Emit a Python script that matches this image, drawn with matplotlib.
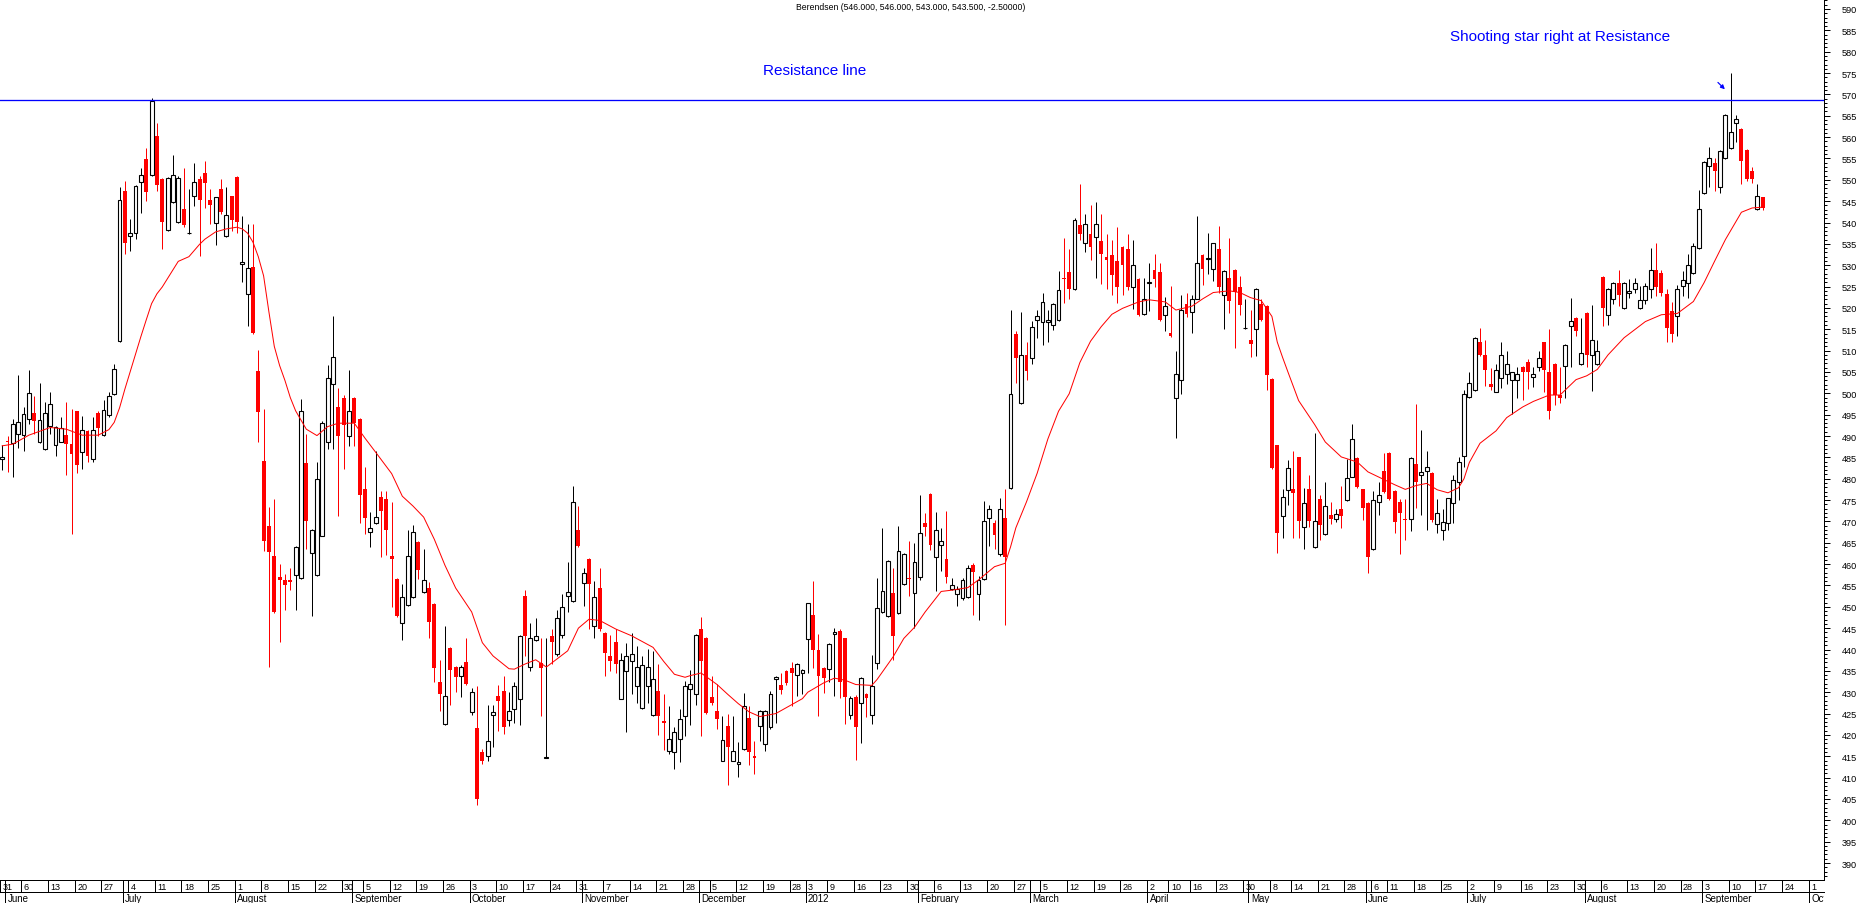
import matplotlib
matplotlib.use("Agg")
import matplotlib.pyplot as plt
import numpy as np
import pandas as pd
from matplotlib.ticker import MultipleLocator

plt.rcParams['font.family'] = ['Liberation Sans', 'DejaVu Sans']

# ---------------- data ----------------
title = "Berendsen (546.000, 546.000, 543.000, 543.500, -2.50000)"
first_day = "2011-05-31"
last_axis_day = "2012-10-05"
uk_holidays = ["2011-08-29", "2011-12-26", "2011-12-27", "2012-01-02", "2012-04-06",
               "2012-04-09", "2012-05-07", "2012-06-04", "2012-06-05", "2012-08-27"]

opens = [484.5, 488.9, 488.3, 490.5, 490.3, 494.1, 495.4, 488.5, 487.0, 492.4,
         488.0, 488.7, 490.2, 488.1, 495.9, 486.3, 491.1, 484.6, 495.4, 490.2,
         494.9, 499.8, 512.2, 547.3, 536.8, 537.5, 549.6, 554.9, 551.2, 560.2,
         550.2, 538.3, 544.7, 540.2, 543.2, 537.5, 546.3, 550.2, 551.7, 545.3,
         539.9, 547.8, 536.8, 546.1, 550.6, 530.3, 523.2, 529.5, 505.3, 484.1,
         469.0, 461.8, 456.9, 456.3, 456.3, 457.4, 456.7, 483.6, 462.7, 457.5,
         466.6, 488.7, 502.2, 496.9, 499.0, 490.1, 499.0, 494.0, 477.6, 467.6,
         469.6, 475.8, 475.2, 461.8, 456.5, 446.2, 450.5, 452.4, 465.1, 453.5,
         454.5, 450.6, 432.5, 422.5, 440.3, 435.8, 433.7, 437.0, 425.4, 421.6,
         415.9, 415.1, 424.6, 429.2, 430.2, 423.6, 426.1, 428.4, 452.6, 436.0,
         442.3, 436.8, 414.6, 443.2, 439.0, 443.4, 452.6, 451.4, 468.1, 455.6,
         461.2, 445.4, 454.5, 443.9, 438.4, 441.7, 428.5, 435.0, 437.4, 431.4,
         426.2, 431.4, 424.6, 430.3, 423.3, 416.3, 415.9, 419.0, 424.5, 430.7,
         429.6, 444.9, 442.7, 428.8, 425.5, 414.0, 422.0, 414.0, 413.2, 416.7,
         423.9, 415.1, 422.0, 417.9, 421.8, 433.0, 431.6, 435.0, 435.7, 434.1,
         434.6, 442.4, 448.0, 439.8, 435.7, 435.4, 443.7, 444.3, 442.6, 424.6,
         428.9, 427.5, 429.6, 424.6, 436.9, 448.7, 447.9, 453.2, 448.5, 455.4,
         456.8, 453.3, 457.1, 469.6, 476.5, 461.6, 464.5, 461.1, 454.2, 453.0,
         452.0, 452.2, 459.7, 453.0, 456.5, 470.9, 469.6, 462.3, 470.7, 477.8,
         514.0, 497.8, 508.9, 508.2, 517.1, 516.7, 516.7, 516.1, 517.1, 527.0,
         528.4, 524.5, 539.4, 535.3, 537.2, 536.6, 535.6, 532.0, 532.4, 531.1,
         534.2, 533.7, 525.0, 526.7, 518.6, 525.8, 528.9, 528.4, 518.3, 514.2,
         498.8, 503.0, 520.9, 519.0, 522.1, 532.4, 531.5, 529.2, 533.7, 523.1,
         527.0, 528.9, 525.0, 515.2, 512.5, 515.1, 520.9, 520.4, 503.4, 487.8,
         471.2, 477.3, 477.5, 485.0, 468.8, 477.5, 463.9, 475.3, 467.0, 471.6,
         470.6, 473.0, 474.9, 480.5, 484.8, 477.5, 474.3, 463.5, 474.6, 481.9,
         486.0, 477.1, 474.6, 470.5, 470.6, 483.5, 480.8, 481.9, 481.4, 469.4,
         468.0, 469.6, 474.3, 479.3, 485.4, 499.2, 500.8, 511.9, 508.9, 502.2,
         500.4, 503.5, 504.6, 503.0, 503.0, 506.1, 507.3, 503.8, 506.1, 511.9,
         504.9, 506.9, 499.7, 506.5, 515.8, 517.6, 506.9, 518.9, 508.9, 506.9,
         527.3, 518.4, 522.1, 525.9, 520.0, 523.5, 524.5, 519.9, 521.9, 524.5,
         528.8, 528.1, 523.2, 519.2, 518.2, 525.1, 525.9, 528.1, 534.0, 546.8,
         553.2, 554.0, 548.4, 555.1, 557.5, 563.2, 562.0, 557.0, 552.1, 543.2,
         546.0]
highs = [488.0, 490.1, 494.0, 504.3, 496.7, 505.5, 499.4, 502.4, 497.9, 500.2,
         492.4, 494.4, 498.0, 496.3, 495.9, 494.6, 491.3, 494.4, 495.9, 498.5,
         500.2, 506.8, 548.2, 549.8, 540.8, 548.8, 552.8, 557.4, 569.2, 563.3,
         550.5, 550.6, 555.8, 550.8, 552.8, 547.8, 553.9, 550.8, 554.5, 547.8,
         546.0, 550.2, 548.2, 546.3, 550.8, 541.6, 539.6, 539.6, 510.2, 496.3,
         473.3, 475.2, 460.0, 457.7, 459.1, 464.3, 498.7, 490.5, 468.2, 484.0,
         493.5, 506.6, 518.0, 501.2, 499.7, 505.5, 499.2, 494.2, 482.7, 472.3,
         486.6, 477.2, 477.2, 474.6, 456.7, 455.3, 468.0, 469.2, 465.3, 463.5,
         455.7, 450.8, 437.5, 445.4, 440.5, 436.2, 436.4, 442.6, 431.1, 431.5,
         416.7, 427.0, 427.0, 431.7, 433.9, 430.1, 432.5, 443.4, 454.0, 446.3,
         447.3, 442.6, 442.6, 444.9, 449.3, 453.0, 460.4, 478.2, 473.5, 459.2,
         461.4, 456.1, 459.2, 444.1, 443.4, 444.8, 439.3, 441.5, 443.9, 440.9,
         438.5, 440.1, 439.7, 436.6, 429.6, 426.7, 421.8, 426.0, 432.7, 435.3,
         443.7, 447.5, 443.0, 433.7, 431.9, 424.5, 424.9, 424.5, 418.4, 429.8,
         426.7, 418.5, 425.9, 425.8, 430.2, 433.8, 434.4, 435.2, 437.1, 436.8,
         435.4, 451.0, 456.1, 443.6, 436.0, 441.5, 445.0, 444.8, 442.8, 429.0,
         429.4, 433.5, 429.8, 438.6, 456.8, 468.4, 461.0, 459.2, 469.0, 462.6,
         465.5, 465.0, 476.2, 472.0, 476.7, 472.2, 468.4, 472.5, 456.8, 454.9,
         456.8, 459.7, 460.2, 457.3, 474.8, 473.8, 470.3, 475.4, 477.7, 519.5,
         514.7, 519.0, 512.1, 516.9, 519.5, 523.6, 519.5, 521.2, 528.6, 536.3,
         533.7, 541.0, 548.9, 542.0, 544.2, 544.7, 542.0, 537.2, 535.9, 539.0,
         534.4, 537.2, 535.9, 527.0, 527.0, 530.5, 532.7, 530.5, 522.6, 525.2,
         509.9, 523.1, 523.6, 523.1, 541.6, 532.6, 537.5, 535.3, 539.2, 528.8,
         536.3, 529.1, 527.4, 522.1, 519.5, 524.7, 522.1, 520.6, 503.6, 488.0,
         477.7, 484.4, 486.6, 485.2, 477.9, 480.8, 490.8, 476.3, 479.3, 474.6,
         472.8, 478.4, 484.6, 492.7, 485.2, 477.7, 474.5, 477.1, 479.2, 486.0,
         486.2, 477.3, 475.3, 475.3, 485.0, 497.6, 491.5, 486.6, 481.6, 475.3,
         472.8, 475.6, 480.8, 485.2, 500.8, 504.9, 513.1, 515.4, 512.4, 506.0,
         506.9, 511.9, 510.0, 505.1, 506.2, 506.3, 508.1, 506.2, 510.0, 512.1,
         515.0, 507.1, 506.2, 511.5, 522.4, 517.8, 517.6, 519.1, 520.7, 512.4,
         527.5, 524.7, 526.1, 528.8, 526.1, 526.7, 527.1, 525.1, 525.9, 534.0,
         535.3, 528.8, 524.5, 521.5, 525.4, 528.6, 532.7, 535.3, 547.6, 554.3,
         557.7, 555.1, 556.9, 565.4, 575.1, 565.1, 562.2, 557.2, 553.1, 549.0,
         546.0]
lows = [482.0, 481.6, 480.3, 487.3, 486.4, 492.8, 490.5, 488.4, 486.8, 490.5,
        485.4, 488.7, 480.9, 467.0, 481.3, 482.3, 483.8, 484.0, 490.1, 490.0,
        494.5, 499.5, 512.0, 532.6, 533.4, 536.1, 542.2, 545.1, 551.0, 547.4,
        533.9, 538.0, 544.5, 540.0, 539.0, 537.4, 543.9, 532.1, 543.5, 539.6,
        534.8, 542.0, 536.5, 538.1, 537.5, 526.0, 515.8, 514.0, 488.7, 463.1,
        435.8, 448.5, 441.7, 449.3, 454.0, 449.3, 456.5, 463.5, 447.8, 457.3,
        466.5, 487.0, 487.0, 471.2, 482.3, 487.6, 487.7, 469.6, 467.0, 463.9,
        469.4, 461.6, 462.2, 449.9, 447.5, 442.2, 450.3, 452.0, 456.5, 453.3,
        442.6, 432.5, 425.7, 422.3, 427.0, 430.1, 428.8, 431.7, 424.6, 403.5,
        413.2, 414.0, 417.1, 421.0, 420.2, 422.0, 422.9, 422.3, 438.4, 435.0,
        442.0, 424.5, 414.5, 436.6, 438.4, 442.8, 448.7, 451.2, 464.0, 450.3,
        444.9, 442.6, 444.4, 433.7, 435.0, 434.6, 428.3, 420.7, 429.6, 427.5,
        426.0, 427.5, 424.5, 420.0, 416.5, 415.5, 412.0, 413.6, 419.8, 422.3,
        427.0, 419.8, 424.8, 427.0, 421.4, 413.8, 408.3, 413.8, 410.1, 416.5,
        412.9, 410.8, 418.6, 416.2, 421.5, 422.7, 429.6, 431.6, 426.8, 429.2,
        429.6, 434.4, 435.7, 424.5, 429.9, 432.5, 429.0, 428.7, 422.5, 423.7,
        414.1, 418.1, 424.2, 422.5, 435.4, 448.5, 447.5, 437.6, 448.3, 455.2,
        452.5, 445.0, 456.2, 466.7, 463.3, 453.6, 458.5, 455.6, 454.0, 450.1,
        451.7, 452.0, 448.2, 447.0, 456.3, 464.2, 463.5, 462.0, 445.8, 477.6,
        502.5, 497.6, 503.2, 506.8, 513.0, 511.3, 512.1, 514.9, 517.0, 521.2,
        522.1, 524.3, 535.9, 533.0, 531.3, 527.0, 525.5, 524.4, 523.1, 521.2,
        523.1, 524.1, 519.7, 518.0, 518.4, 519.3, 525.0, 516.9, 514.7, 513.3,
        489.5, 499.8, 517.8, 514.2, 522.0, 525.3, 528.0, 526.3, 523.4, 515.1,
        518.8, 510.6, 518.3, 515.0, 508.4, 508.7, 516.9, 500.7, 482.3, 462.6,
        466.2, 473.8, 466.2, 466.2, 463.5, 468.8, 463.7, 465.7, 466.8, 469.4,
        469.8, 468.4, 474.7, 480.3, 477.9, 470.4, 457.9, 463.3, 471.6, 476.7,
        475.1, 467.2, 462.3, 465.7, 467.8, 473.2, 471.6, 468.1, 469.8, 467.2,
        465.7, 468.1, 469.6, 474.9, 482.7, 499.0, 500.6, 508.7, 501.6, 500.8,
        500.2, 501.2, 502.2, 495.1, 498.8, 498.4, 501.0, 501.4, 505.3, 500.4,
        493.9, 497.2, 497.8, 498.9, 506.2, 513.4, 506.7, 506.2, 500.6, 506.7,
        515.8, 515.9, 520.8, 520.5, 519.8, 522.3, 523.5, 519.7, 520.8, 522.4,
        522.7, 522.9, 511.9, 511.9, 513.4, 522.7, 522.4, 527.9, 533.8, 546.6,
        548.4, 547.4, 547.0, 554.9, 557.3, 558.9, 548.9, 549.8, 549.2, 543.0,
        543.0]
closes = [485.0, 488.5, 492.8, 493.2, 495.1, 500.0, 493.4, 493.8, 495.5, 497.5,
          492.2, 491.8, 488.1, 485.8, 483.2, 491.4, 485.4, 491.4, 491.8, 496.2,
          499.3, 505.8, 545.3, 535.3, 537.5, 548.5, 551.2, 547.2, 568.4, 548.8,
          540.2, 550.4, 551.2, 550.4, 539.3, 537.6, 549.6, 545.3, 549.2, 544.2,
          545.9, 542.4, 541.7, 540.7, 540.2, 530.7, 529.3, 514.1, 495.7, 465.3,
          462.9, 448.9, 456.3, 455.1, 455.7, 464.1, 495.8, 470.2, 468.0, 479.9,
          493.0, 503.7, 508.6, 490.1, 492.6, 495.9, 493.0, 476.2, 470.9, 468.4,
          471.1, 472.5, 468.1, 461.2, 447.9, 452.4, 462.0, 467.6, 458.7, 456.3,
          446.5, 435.7, 429.6, 429.2, 435.2, 433.5, 436.0, 431.9, 430.1, 405.0,
          414.0, 418.6, 425.3, 428.0, 421.8, 425.7, 431.4, 443.2, 443.2, 442.8,
          443.2, 435.7, 414.8, 441.7, 447.3, 450.0, 453.4, 474.6, 464.2, 457.9,
          455.3, 452.2, 444.8, 439.3, 437.4, 436.6, 437.6, 438.4, 438.9, 436.0,
          436.4, 436.0, 433.1, 424.5, 422.9, 419.0, 420.7, 423.7, 431.5, 431.9,
          443.5, 437.4, 425.1, 427.5, 423.7, 418.9, 417.1, 416.3, 413.7, 426.7,
          415.9, 414.7, 425.7, 425.6, 429.6, 433.5, 430.6, 432.1, 434.4, 436.6,
          435.2, 450.8, 439.8, 433.8, 433.3, 441.3, 444.0, 432.3, 428.9, 428.7,
          421.9, 433.3, 428.7, 431.4, 449.8, 453.6, 460.7, 443.2, 463.1, 462.4,
          456.5, 460.4, 467.4, 468.8, 464.5, 468.1, 465.5, 457.1, 455.2, 454.2,
          456.3, 459.0, 458.1, 456.3, 470.0, 472.9, 466.9, 472.9, 461.6, 499.9,
          508.2, 508.9, 505.3, 515.6, 518.0, 521.5, 517.1, 521.0, 524.1, 526.7,
          524.4, 540.7, 537.2, 539.7, 534.3, 539.7, 532.7, 531.3, 527.6, 525.0,
          530.1, 525.0, 530.0, 518.3, 522.1, 526.0, 526.7, 517.1, 520.5, 513.5,
          504.6, 519.5, 518.6, 522.0, 530.5, 529.2, 531.8, 535.1, 525.0, 528.6,
          521.7, 523.8, 520.7, 515.4, 511.6, 524.5, 517.1, 504.2, 482.5, 467.4,
          475.7, 482.6, 476.7, 470.0, 474.3, 470.0, 470.2, 469.2, 473.5, 470.6,
          471.8, 471.2, 480.1, 489.2, 478.1, 473.2, 461.7, 475.1, 476.1, 476.9,
          475.3, 469.8, 472.0, 470.3, 484.8, 479.3, 481.5, 482.7, 470.4, 471.9,
          469.8, 475.4, 479.7, 484.0, 499.8, 502.4, 512.9, 508.9, 505.4, 501.4,
          505.4, 508.9, 506.9, 504.9, 504.5, 504.9, 505.1, 504.5, 508.3, 505.4,
          495.9, 499.6, 498.9, 511.3, 517.0, 514.6, 509.5, 508.9, 512.4, 510.0,
          520.0, 524.5, 525.9, 523.1, 525.9, 524.0, 525.9, 521.9, 525.1, 528.9,
          524.9, 523.5, 515.2, 513.8, 524.5, 526.5, 530.0, 534.6, 543.1, 554.1,
          555.1, 552.1, 556.7, 565.2, 561.2, 564.3, 554.3, 550.2, 550.2, 546.2,
          543.5]

# moving-average line (candle index, value)
ma_idx = [0, 2, 5, 9, 12, 15, 18, 20, 21, 22, 23, 24, 25, 26, 27, 28, 29, 30, 32, 33,
          35, 37, 38, 40, 42, 44, 45, 46, 47, 48, 49, 50, 51, 52, 53, 54, 55, 57, 59, 61,
          63, 66, 68, 70, 73, 75, 77, 79, 81, 83, 85, 88, 90, 92, 95, 96, 98, 100, 102, 104,
          106, 108, 110, 112, 115, 118, 122, 124, 126, 128, 129, 131, 134, 136, 138, 140, 142, 145, 148, 150,
          151, 154, 156, 158, 160, 163, 164, 167, 169, 171, 173, 176, 178, 181, 183, 186, 188, 189, 190, 192,
          194, 196, 198, 200, 202, 204, 206, 208, 210, 213, 215, 218, 220, 223, 225, 227, 230, 232, 234, 236,
          238, 239, 240, 241, 243, 246, 248, 251, 254, 256, 258, 261, 263, 265, 267, 269, 271, 273, 274, 275,
          277, 280, 282, 285, 287, 290, 292, 295, 297, 299, 301, 304, 308, 311, 314, 317, 319, 321, 323, 326,
          328, 330]
ma_val = [487.7, 488.1, 490.2, 492.0, 491.6, 490.2, 490.2, 491.5, 493.2, 496.6, 501.0, 505.1, 509.2, 513.3, 517.2, 521.0, 523.3, 524.9, 528.9, 530.9,
          532.0, 534.9, 536.1, 537.8, 538.5, 538.9, 538.5, 537.5, 535.4, 532.0, 527.5, 519.0, 511.0, 506.5, 503.0, 499.0, 495.9, 491.6, 490.1, 492.2,
          493.0, 493.0, 489.5, 486.2, 481.2, 475.9, 473.6, 471.0, 465.8, 459.7, 454.4, 448.8, 441.6, 438.5, 435.5, 435.4, 436.6, 437.6, 435.9, 437.8,
          439.7, 445.0, 447.1, 446.8, 444.8, 443.2, 440.5, 437.2, 434.2, 433.5, 433.9, 434.5, 431.8, 429.5, 427.3, 425.4, 424.3, 425.0, 427.1, 428.5,
          430.0, 432.2, 433.3, 432.8, 431.8, 431.6, 433.0, 438.3, 442.6, 445.2, 448.8, 453.6, 453.9, 454.5, 456.3, 459.4, 460.2, 464.0, 468.5, 474.6,
          481.3, 489.3, 495.8, 499.9, 507.2, 512.2, 515.6, 518.5, 519.9, 521.4, 521.9, 521.4, 519.5, 520.4, 522.1, 523.6, 524.0, 523.6, 522.4, 521.7,
          518.0, 512.0, 508.4, 505.0, 498.3, 492.7, 488.6, 485.1, 483.9, 481.6, 480.4, 478.6, 477.5, 478.4, 478.9, 477.4, 476.7, 477.9, 480.0, 483.8,
          488.3, 491.2, 494.3, 496.8, 498.1, 499.6, 499.6, 503.2, 504.1, 505.6, 509.0, 513.0, 516.8, 518.4, 518.7, 521.5, 525.9, 531.0, 536.0, 542.4,
          543.4, 543.6]

resistance = 568.8
star_index = 324
resistance_label = "Resistance line"
star_label = "Shooting star right at Resistance"

# ---------------- figure ----------------
W, H = 1860, 904
fig = plt.figure(figsize=(W / 100, H / 100), dpi=100)
PX, PY = 1 / W, 1 / H
PT = 0.72  # one pixel in points

ax = fig.add_axes([0, 24 * PY, 1824 * PX, 880 * PY])
slot = 5.335
xmin = -2.2 / slot
xmax = (1824 - 2.2) / slot
ax.set_xlim(xmin, xmax)
ax.set_ylim(386.26, 592.34)

for s in ("left", "top", "bottom"):
    ax.spines[s].set_visible(False)
ax.spines["right"].set_linewidth(PT)
ax.spines["right"].set_color("black")
ax.set_xticks([])
ax.yaxis.tick_right()
ax.yaxis.set_major_locator(MultipleLocator(5))
ax.yaxis.set_minor_locator(MultipleLocator(1))
ax.tick_params(axis="y", which="major", length=6 * PT, width=PT, pad=8.5,
               labelsize=6.6, colors="black", direction="out")
ax.tick_params(axis="y", which="minor", length=3 * PT, width=PT, direction="out")
ax.yaxis.set_major_formatter(plt.FuncFormatter(lambda v, p: f"{v:.0f}"))

o = np.array(opens); h = np.array(highs); l = np.array(lows); c = np.array(closes)
x = np.arange(len(o))
up = c >= o
dn = ~up
red = "#ff0000"
bw = 0.72

ax.vlines(x[up], l[up], h[up], colors="black", linewidth=PT, zorder=2)
ax.vlines(x[dn], l[dn], h[dn], colors=red, linewidth=PT, zorder=2)
ax.bar(x[up], np.maximum(c[up] - o[up], 0.12), bottom=o[up], width=bw,
       facecolor="white", edgecolor="black", linewidth=1.1 * PT, zorder=3)
ax.bar(x[dn], np.maximum(o[dn] - c[dn], 0.3), bottom=c[dn], width=bw,
       color=red, linewidth=0, zorder=3)

ax.plot(ma_idx, ma_val, color=red, linewidth=1.0 * PT, zorder=4)
ax.axhline(resistance, color="#0000ff", linewidth=1.3 * PT, zorder=5)

# annotations
fig.text(911 * PX, 1 - 7 * PY, title, ha="center", va="center", fontsize=6.2, color="black")
fig.text(763 * PX, 1 - 75 * PY, resistance_label, ha="left", va="baseline",
         fontsize=11, color="#0000ff")
fig.text(1450 * PX, 1 - 40.5 * PY, star_label, ha="left", va="baseline",
         fontsize=11, color="#0000ff")
ax.annotate("", xy=(star_index - 1.1, resistance + 2.4),
            xytext=(star_index - 2.4, resistance + 4.0),
            arrowprops=dict(arrowstyle="-|>", color="#0000ff", lw=1.2 * PT,
                            mutation_scale=6, shrinkA=0, shrinkB=0), zorder=6)

# ---------------- date axis ----------------
days = pd.bdate_range(first_day, last_axis_day, freq="C", holidays=uk_holidays)
dax = fig.add_axes([0, 0, 1824 * PX, 24 * PY])
dax.set_xlim(xmin, xmax)
dax.set_ylim(24, 0)
dax.axis("off")
dax.plot([xmin, xmax], [0.5, 0.5], color="black", lw=PT, clip_on=False)
dax.plot([xmin, xmax], [12.5, 12.5], color="black", lw=PT, clip_on=False)
off = -0.4
tx = 0.45
for k, d in enumerate(days):
    new_week = k == 0 or d.weekday() <= days[k - 1].weekday()
    new_month = k > 0 and d.month != days[k - 1].month
    xp = k + off
    if xp > xmax:
        break
    if new_month:
        dax.plot([xp, xp], [0.5, 24], color="black", lw=PT)
        lab = str(d.year) if d.month == 1 else d.strftime("%B")
        dax.text(xp + tx, 22.3, lab, fontsize=7, ha="left", va="baseline", clip_on=True)
    if new_week:
        dax.plot([xp, xp], [0.5, 12.5], color="black", lw=PT)
        dax.text(xp + tx, 10, str(d.day), fontsize=6.5, ha="left", va="baseline", clip_on=True)

fig.savefig("out.png", dpi=100, facecolor="white")
